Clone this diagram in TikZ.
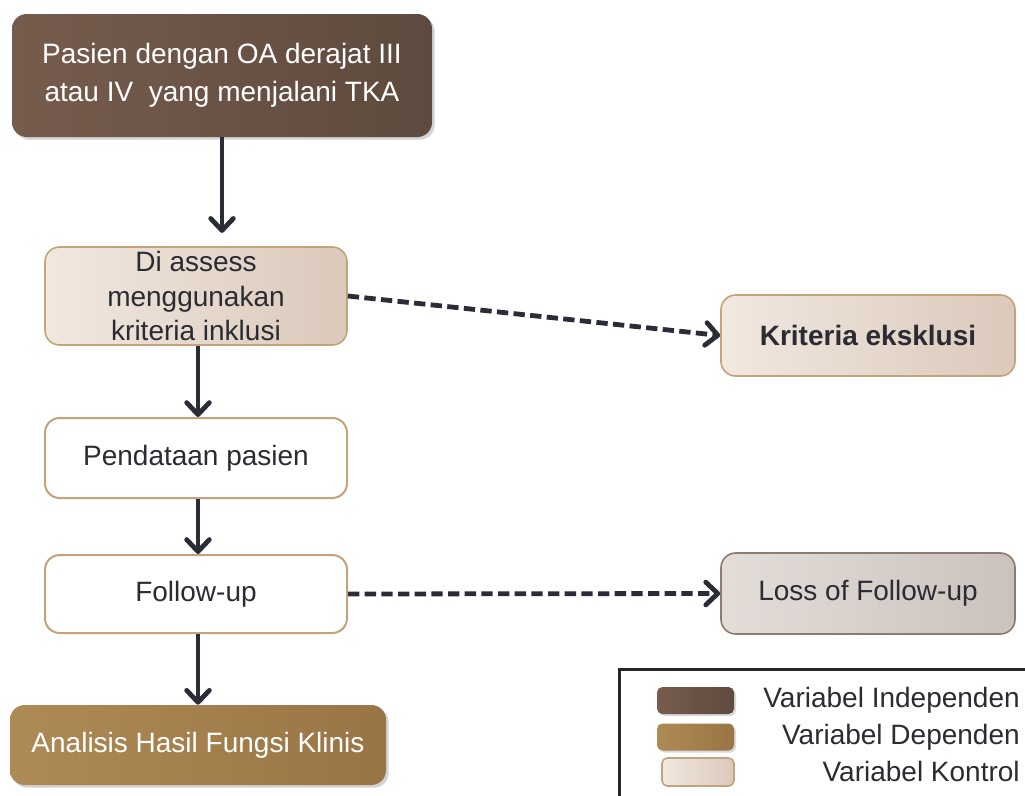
\documentclass[tikz,border=0pt]{standalone}
\usepackage{fontspec}
\setmainfont{Liberation Sans}
\usetikzlibrary{arrows.meta,shadows}
\definecolor{darkA}{HTML}{765C4D}
\definecolor{darkB}{HTML}{5E4A3E}
\definecolor{tanA}{HTML}{AE8A55}
\definecolor{tanB}{HTML}{997546}
\definecolor{beigeA}{HTML}{F1E8E0}
\definecolor{beigeB}{HTML}{DBC9BB}
\definecolor{beigeLine}{HTML}{C4A27C}
\definecolor{grayA}{HTML}{E3DDD9}
\definecolor{grayB}{HTML}{CBC2BD}
\definecolor{grayLine}{HTML}{8D7B70}
\definecolor{txt}{HTML}{2B2B33}
\definecolor{arrowc}{HTML}{2A2C38}
\tikzset{
  box/.style={rounded corners=11pt, inner sep=0pt, align=center,
    font=\fontsize{21}{26}\selectfont, text=txt},
  darkbox/.style={box, left color=darkA, right color=darkB, text=white,
    drop shadow={opacity=0.35, shadow xshift=2pt, shadow yshift=-2pt}},
  tanbox/.style={box, left color=tanA, right color=tanB, text=white,
    drop shadow={opacity=0.35, shadow xshift=2pt, shadow yshift=-2pt}},
  beigebox/.style={box, left color=beigeA, right color=beigeB, draw=beigeLine, line width=1.2pt},
  whitebox/.style={box, fill=white, draw=beigeLine, line width=1.5pt},
  graybox/.style={box, left color=grayA, right color=grayB, draw=grayLine, line width=1.2pt},
  arr/.style={draw=arrowc, line width=3.6pt, -{Straight Barb[length=9pt,width=17pt,round]}},
  darr/.style={arr, dash pattern=on 8.5pt off 4pt},
  legtext/.style={anchor=east, inner sep=0pt, font=\fontsize{21}{26}\selectfont, text=txt},
}
\begin{document}
\begin{tikzpicture}[x=0.75pt,y=-0.75pt]
\useasboundingbox (0,0) rectangle (1025,796);
\clip (0,0) rectangle (1025,796);
\node[darkbox, minimum width=315pt, minimum height=92.25pt, font=\fontsize{21}{28.5}\selectfont] (top) at (222,75.5)
  {Pasien dengan OA derajat III\\atau IV\ \ yang menjalani TKA};
\node[beigebox, minimum width=226.5pt, minimum height=73.5pt] (assess) at (196,296)
  {Di assess\\menggunakan\\kriteria inklusi};
\node[whitebox, minimum width=226.5pt, minimum height=60pt] (data) at (196,458) {\raisebox{-3pt}{Pendataan pasien}};
\node[whitebox, minimum width=226.5pt, minimum height=58.5pt] (fu) at (196,594) {\raisebox{-2pt}{Follow-up}};
\node[tanbox, minimum width=282pt, minimum height=60pt] (anal) at (198,745) {Analisis Hasil Fungsi Klinis};
\node[beigebox, minimum width=220.5pt, minimum height=60.75pt, font=\fontsize{21}{26}\selectfont\bfseries] (eks) at (868,335.5) {Kriteria eksklusi};
\node[graybox, minimum width=220.5pt, minimum height=60.75pt] (loss) at (868,593.5) {Loss of Follow-up};

\draw[arr, shorten >=10pt] (top.south) -- (top.south |- assess.north);
\draw[arr] ([xshift=1.5pt]assess.south) -- ([xshift=1.5pt]data.north);
\draw[arr] ([xshift=1.5pt]data.south) -- ([xshift=1.5pt]fu.north);
\draw[arr] ([xshift=1.5pt]fu.south) -- ([xshift=1.5pt]fu.south |- anal.north);
\draw[darr] (assess.east) -- (eks.west);
\draw[darr] (fu.east) -- (loss.west);

% legend
\node[draw=black!85, line width=2pt, minimum width=315pt, minimum height=100pt, inner sep=0pt, anchor=north west] (legend) at (618,668) {};
\node[rounded corners=4pt, left color=darkA, right color=darkB, minimum width=57.75pt, minimum height=20.25pt, inner sep=0pt,
  drop shadow={opacity=0.3, shadow xshift=1.5pt, shadow yshift=-1.5pt}] (s1) at (695.5,700.5) {};
\node[rounded corners=4pt, left color=tanA, right color=tanB, minimum width=57.75pt, minimum height=20.25pt, inner sep=0pt,
  drop shadow={opacity=0.3, shadow xshift=1.5pt, shadow yshift=-1.5pt}] (s2) at (695.5,737) {};
\node[rounded corners=4pt, left color=beigeA, right color=beigeB, draw=beigeLine, line width=1.2pt, minimum width=54pt, minimum height=21pt, inner sep=0pt] (s3) at (698,772) {};
\node[legtext] (l1) at (1020,700) {Variabel Independen};
\node[legtext] (l2) at (1020,737) {Variabel Dependen};
\node[legtext] (l3) at (1020,771) {Variabel Kontrol};
\end{tikzpicture}
\end{document}
